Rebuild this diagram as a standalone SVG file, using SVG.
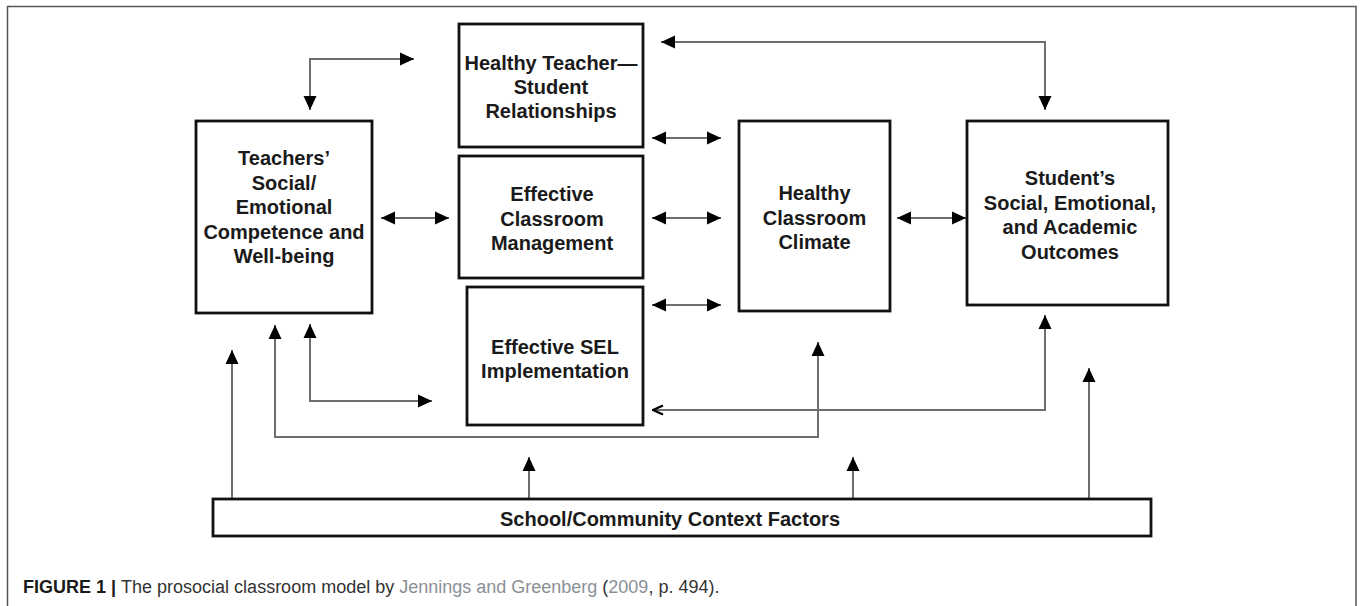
<svg xmlns="http://www.w3.org/2000/svg" width="1360" height="606" viewBox="0 0 1360 606">
<style>
.box{fill:#fff;stroke:#111;stroke-width:2.8}
.lbl{font-family:"Liberation Sans",Arial,sans-serif;font-weight:bold;font-size:20px;fill:#1a1a1a;text-anchor:middle}
.con{fill:none;stroke:#6e6e6e;stroke-width:2}
.cap{font-family:"Liberation Sans",Arial,sans-serif;font-size:18px;fill:#333}
</style>
<defs>
<marker id="ah" viewBox="0 0 14 14" refX="14" refY="7" markerWidth="14" markerHeight="14" markerUnits="userSpaceOnUse" orient="auto-start-reverse">
<path d="M0,0.5 L14,7 L0,13.5 z" fill="#000"/>
</marker>
<marker id="chev" viewBox="0 0 12 12" refX="11" refY="6" markerWidth="12" markerHeight="12" markerUnits="userSpaceOnUse" orient="auto-start-reverse">
<path d="M1,1.5 L11,6 L1,10.5" fill="none" stroke="#000" stroke-width="2.2"/>
</marker>
</defs>
<rect width="1360" height="606" fill="#fff"/>
<path d="M7.5,606 V6.5 H1356 V606" fill="none" stroke="#555" stroke-width="1.5"/>

<g id="connectors">
<path class="con" d="M414,59 L310,59 L310,110" marker-start="url(#ah)" marker-end="url(#ah)"/>
<path class="con" d="M661,42 L1045,42 L1045,110" marker-start="url(#ah)" marker-end="url(#ah)"/>
<path class="con" d="M381,218 L449,218" marker-start="url(#ah)" marker-end="url(#ah)"/>
<path class="con" d="M652,138 L721,138" marker-start="url(#ah)" marker-end="url(#ah)"/>
<path class="con" d="M652,218 L721,218" marker-start="url(#ah)" marker-end="url(#ah)"/>
<path class="con" d="M652,305 L721,305" marker-start="url(#ah)" marker-end="url(#ah)"/>
<path class="con" d="M897,218 L966,218" marker-start="url(#ah)" marker-end="url(#ah)"/>
<path class="con" d="M275,325 L275,437 L818,437 L818,342" marker-start="url(#ah)" marker-end="url(#ah)"/>
<path class="con" d="M310,324 L310,401 L432,401" marker-start="url(#ah)" marker-end="url(#ah)"/>
<path class="con" d="M653,410 L1045,410 L1045,315" marker-start="url(#chev)" marker-end="url(#ah)"/>
<path class="con" d="M232,499 L232,350" marker-end="url(#ah)"/>
<path class="con" d="M529,499 L529,457" marker-end="url(#ah)"/>
<path class="con" d="M853,499 L853,457" marker-end="url(#ah)"/>
<path class="con" d="M1089,499 L1089,368" marker-end="url(#ah)"/>
</g>

<g id="teachers">
<rect class="box" x="196" y="121" width="176" height="192"/>
<text class="lbl" x="284" y="165">Teachers’</text>
<text class="lbl" x="284" y="189.5">Social/</text>
<text class="lbl" x="284" y="214">Emotional</text>
<text class="lbl" x="284" y="238.5">Competence and</text>
<text class="lbl" x="284" y="263">Well-being</text>
</g>

<g id="relationships">
<rect class="box" x="459" y="24" width="184" height="123"/>
<text class="lbl" x="551" y="70">Healthy Teacher—</text>
<text class="lbl" x="551" y="94">Student</text>
<text class="lbl" x="551" y="118">Relationships</text>
</g>

<g id="management">
<rect class="box" x="459" y="156" width="184" height="122"/>
<text class="lbl" x="552" y="201">Effective</text>
<text class="lbl" x="552" y="225.5">Classroom</text>
<text class="lbl" x="552" y="250">Management</text>
</g>

<g id="sel">
<rect class="box" x="467" y="287" width="176" height="138"/>
<text class="lbl" x="555" y="354">Effective SEL</text>
<text class="lbl" x="555" y="378">Implementation</text>
</g>

<g id="climate">
<rect class="box" x="739" y="121" width="151" height="190"/>
<text class="lbl" x="814.5" y="200">Healthy</text>
<text class="lbl" x="814.5" y="224.5">Classroom</text>
<text class="lbl" x="814.5" y="249">Climate</text>
</g>

<g id="outcomes">
<rect class="box" x="967" y="121" width="201" height="184"/>
<text class="lbl" x="1070" y="185">Student’s</text>
<text class="lbl" x="1070" y="209.5">Social, Emotional,</text>
<text class="lbl" x="1070" y="234">and Academic</text>
<text class="lbl" x="1070" y="258.5">Outcomes</text>
</g>

<g id="context">
<rect class="box" x="213" y="499" width="938" height="37"/>
<text class="lbl" x="670" y="526">School/Community Context Factors</text>
</g>

<text class="cap" x="23" y="593"><tspan font-weight="bold" fill="#1a1a1a">FIGURE 1 | </tspan>The prosocial classroom model by <tspan fill="#8a8f96">Jennings and Greenberg</tspan> (<tspan fill="#8a8f96">2009</tspan>, p. 494).</text>
</svg>
